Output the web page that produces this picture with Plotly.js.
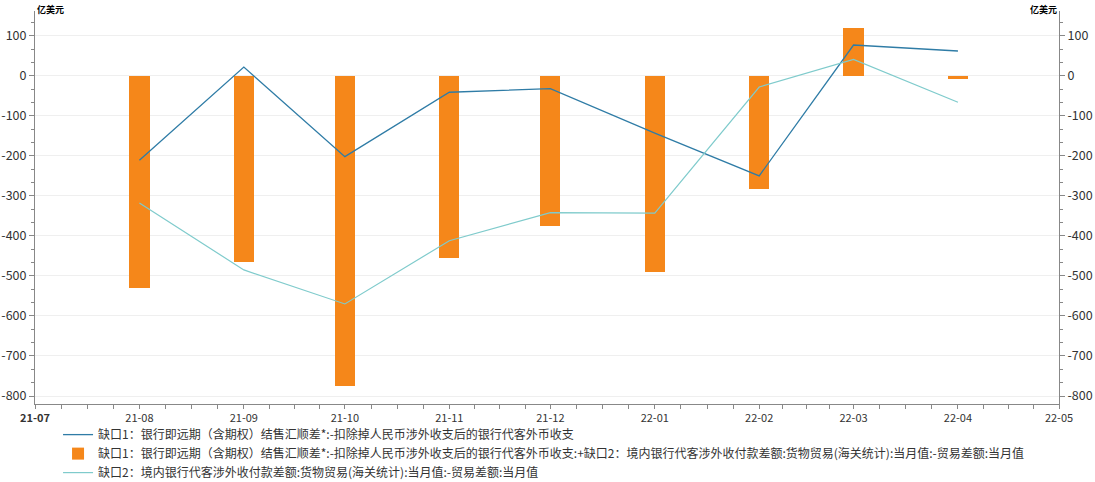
<!DOCTYPE html>
<html>
<head>
<meta charset="utf-8">
<script src="https://cdn.plot.ly/plotly-3.0.1.min.js"></script>
<style>html,body{margin:0;padding:0;background:#fff;}#chart{width:1095px;height:482px;}</style>
</head>
<body>
<div id="chart"></div>
<script>
const months = ['2021-08-01','2021-09-01','2021-10-01','2021-11-01','2021-12-01','2022-01-01','2022-02-01','2022-03-01','2022-04-01'];
const gap1 = [-211, 22, -202, -41, -32, -143, -250, 77, 62];
const gapSum = [-530, -465, -775, -455, -375, -490, -282, 120, -7];
const gap2 = [-318, -485, -570, -412, -342, -343, -28, 41, -66];

const name1 = '缺口1：银行即远期（含期权）结售汇顺差*:-扣除掉人民币涉外收支后的银行代客外币收支';
const name2 = '缺口1：银行即远期（含期权）结售汇顺差*:-扣除掉人民币涉外收支后的银行代客外币收支:+缺口2：境内银行代客涉外收付款差额:货物贸易(海关统计):当月值:-贸易差额:当月值';
const name3 = '缺口2：境内银行代客涉外收付款差额:货物贸易(海关统计):当月值:-贸易差额:当月值';

const xTickVals = ['2021-07-01','2021-08-01','2021-09-01','2021-10-01','2021-11-01','2021-12-01','2022-01-01','2022-02-01','2022-03-01','2022-04-01','2022-05-01'];
const xTickText = ['<b>21-07</b>','21-08','21-09','21-10','21-11','21-12','22-01','22-02','22-03','22-04','22-05'];
const yTickVals = [100, 0, -100, -200, -300, -400, -500, -600, -700, -800];
const yTickText = ['100', '0', '-100', '-200', '-300', '-400', '-500', '-600', '-700', '-800'];
const unitLabel = '亿美元';

const FONT = '"Noto Sans CJK SC", "Noto Sans", sans-serif';
const DAY = 86400000;

// minor x ticks: quarter-month subdivisions between the month ticks
const xMinor = [];
for (let i = 0; i < xTickVals.length - 1; i++) {
  const a = new Date(xTickVals[i] + 'T00:00:00Z').getTime();
  const b = new Date(xTickVals[i+1] + 'T00:00:00Z').getTime();
  for (let k = 1; k < 4; k++) xMinor.push(new Date(a + (b - a) * k / 4).toISOString());
}

const traces = [
  {type:'scatter', mode:'lines', x: months, y: gap1, name: name1,
   line:{color:'#2f7ca6', width:1.3}, xaxis:'x', yaxis:'y'},
  {type:'bar', x: months, y: gapSum, name: name2, width: 6*DAY,
   marker:{color:'#f5871a'}, xaxis:'x', yaxis:'y'},
  {type:'scatter', mode:'lines', x: months, y: gap2, name: name3,
   line:{color:'#7fcbcc', width:1.2}, xaxis:'x', yaxis:'y2'}
];

const yBase = {
  range:[-820, 162], tickmode:'array', tickvals: yTickVals, ticktext: yTickText,
  ticks:'outside', ticklen:5, tickcolor:'#888', showline:true, linecolor:'#888', linewidth:1,
  zeroline:false, tickfont:{family:FONT, size:12.5, color:'#333'},
  minor:{tickmode:'linear', tick0:0, dtick:100/3, ticks:'outside', ticklen:3, tickcolor:'#888', showgrid:false}
};

const layout = {
  width:1095, height:482,
  margin:{l:35, r:36, t:11, b:78, autoexpand:false},
  paper_bgcolor:'#fff', plot_bgcolor:'#fff',
  font:{family:FONT, color:'#333'},
  showlegend:true,
  legend:{orientation:'v', x:0.0225, xanchor:'left', y:-0.041, yanchor:'top',
          font:{family:FONT, size:12, color:'#333'}, tracegroupgap:0, itemwidth:30,
          bgcolor:'rgba(0,0,0,0)'},
  xaxis:{type:'date', range:['2021-07-01','2022-05-01'], tickmode:'array',
         tickvals: xTickVals, ticktext: xTickText, ticks:'outside', ticklen:4, tickcolor:'#888',
         showline:true, linecolor:'#888', linewidth:1, showgrid:false, zeroline:false,
         tickfont:{family:FONT, size:11, color:'#333'},
         minor:{tickmode:'array', tickvals: xMinor, ticks:'outside', ticklen:4, tickcolor:'#888', showgrid:false}},
  yaxis: Object.assign({}, yBase, {side:'left', showgrid:true, gridcolor:'#efefef', gridwidth:1}),
  yaxis2: Object.assign({}, yBase, {side:'right', overlaying:'y', matches:'y', showgrid:false}),
  bargap:0,
  annotations:[
    {text:'<b>'+unitLabel+'</b>', xref:'paper', yref:'paper', x:0, y:1, xanchor:'left', yanchor:'bottom',
     showarrow:false, font:{family:FONT, size:9, color:'#000'}, yshift:-7},
    {text:'<b>'+unitLabel+'</b>', xref:'paper', yref:'paper', x:1, y:1, xanchor:'right', yanchor:'bottom',
     showarrow:false, font:{family:FONT, size:9, color:'#000'}, yshift:-7}
  ]
};

Plotly.newPlot('chart', traces, layout, {displayModeBar:false, staticPlot:true});
</script>
</body>
</html>
